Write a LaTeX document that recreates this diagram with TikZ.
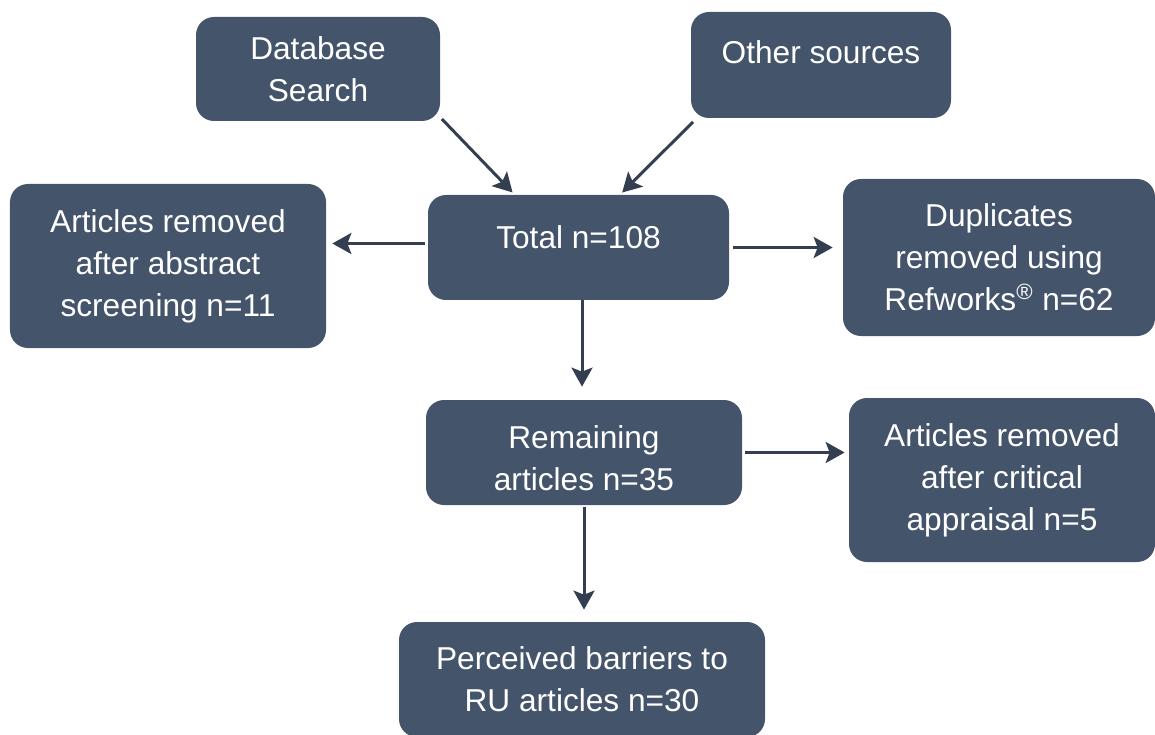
\documentclass[tikz,border=0pt]{standalone}
\usepackage{fontspec}
\setmainfont{Liberation Sans}
\usepackage{tikz}
\usetikzlibrary{arrows.meta,positioning}
\definecolor{boxfill}{HTML}{44546A}
\definecolor{arrowline}{HTML}{333F50}
\tikzset{
	stagebox/.style = {shape=rectangle, rounded corners=0.36cm,
		fill=boxfill, text=white, align=center, inner sep=0pt,
		font=\fontsize{18}{23.8}\selectfont},
	flowarrow/.style = {draw=arrowline, line width=1.7pt,
		-{Stealth[length=0.38cm, width=0.42cm, inset=0.08cm]}}
}

\begin{document}
\begin{tikzpicture}
	\useasboundingbox (0,0) rectangle (23.1,-14.7);
	\node [stagebox, minimum width=4.88cm, minimum height=2.08cm]
		(db) at (6.36,-1.38) {Database\\Search};
	\node [stagebox, minimum width=5.2cm, minimum height=2.12cm,
		text depth=0.5cm] (other) at (16.42,-1.30) {Other sources};
	\node [stagebox, minimum width=6.02cm, minimum height=2.10cm,
		text depth=0.4cm] (total) at (11.57,-4.95) {Total n=108};
	\node [stagebox, minimum width=6.32cm, minimum height=3.28cm]
		(absrm) at (3.36,-5.32) {Articles removed\\after abstract\\screening n=11};
	\node [stagebox, minimum width=6.24cm, minimum height=3.14cm]
		(dup) at (19.98,-5.15)
		{Duplicates\\removed using\\Refworks\textsuperscript{®} n=62};
	\node [stagebox, minimum width=6.32cm, minimum height=2.10cm,
		text height=1.51cm] (remain) at (11.68,-9.05) {Remaining\\articles n=35};
	\node [stagebox, minimum width=6.12cm, minimum height=3.28cm]
		(critrm) at (20.04,-9.60) {Articles removed\\after critical\\appraisal n=5};
	\node [stagebox, minimum width=7.32cm, minimum height=2.3cm]
		(perc) at (11.64,-13.59) {Perceived barriers to\\RU articles n=30};

	\draw [flowarrow, shorten <=0.1cm, shorten >=0.06cm]
		([xshift=-0.04cm,yshift=0.12cm]db.south east) -- ([xshift=1.74cm]total.north west);
	\draw [flowarrow, shorten <=0.1cm, shorten >=0.06cm]
		([xshift=0.12cm]other.south west) -- ([xshift=0.83cm]total.north);
	\draw [flowarrow, shorten <=0.06cm, shorten >=0.12cm]
		([yshift=0.08cm]total.west) -- ([yshift=0.08cm]total.west -| absrm.east);
	\draw [flowarrow, shorten <=0.08cm, shorten >=0.2cm]
		(total.east) -- (total.east -| dup.west);
	\draw [flowarrow, shorten >=0.26cm]
		([xshift=0.07cm]total.south) -- ([xshift=0.07cm]total.south |- remain.north);
	\draw [flowarrow, shorten <=0.06cm, shorten >=0.08cm]
		(remain.east) -- (remain.east -| critrm.west);
	\draw [flowarrow, shorten <=0.04cm, shorten >=0.24cm]
		(remain.south) -- (remain.south |- perc.north);
\end{tikzpicture}
\end{document}
